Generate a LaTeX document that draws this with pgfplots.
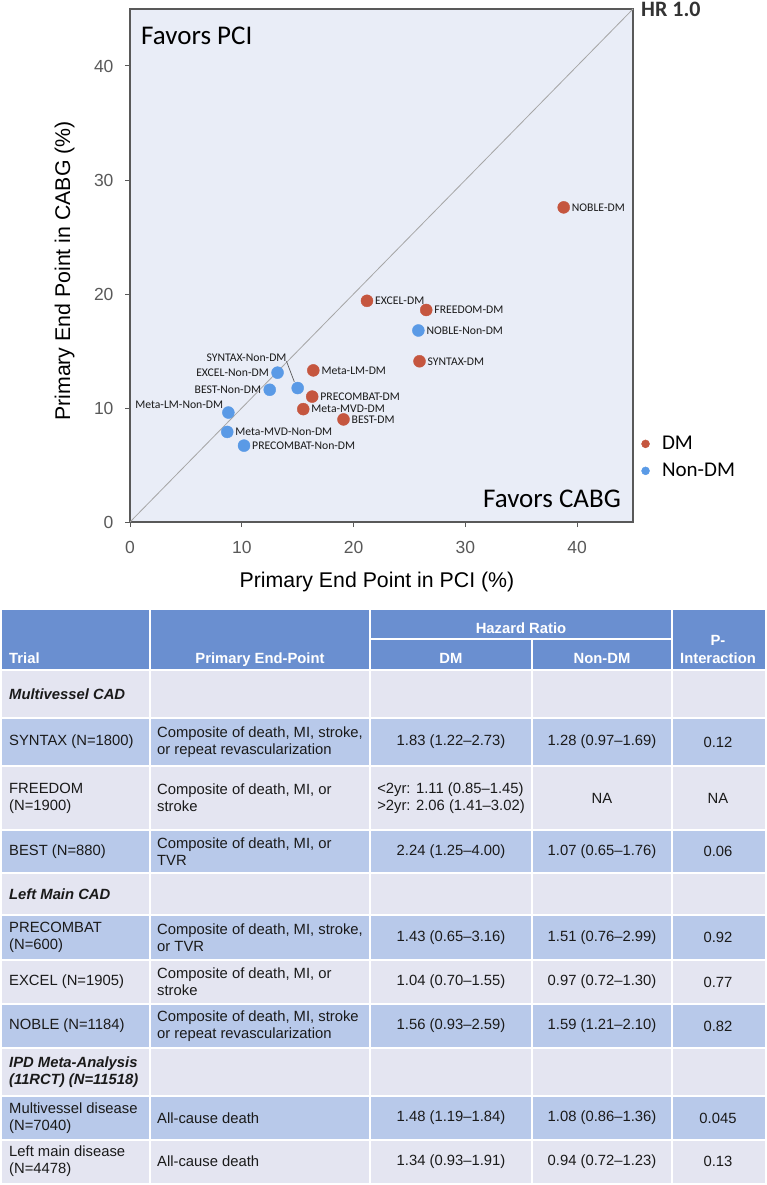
\documentclass[border=0pt]{standalone}
\usepackage{fontspec}
\setmainfont{Liberation Sans}
\newfontfamily\calfont{Carlito}
\usepackage{pgfplots}
\pgfplotsset{compat=1.18}
\usepackage{pgfplotstable}

\definecolor{dmred}{HTML}{C5563F}
\definecolor{ndblue}{HTML}{5A9AE6}
\definecolor{plotbg}{HTML}{E9EDF7}
\definecolor{axgray}{HTML}{595959}
\definecolor{hdr}{HTML}{6A8FD0}
\definecolor{rowblue}{HTML}{B8C9EA}
\definecolor{rowlight}{HTML}{E4E5F1}
\definecolor{txt}{HTML}{1A1A1A}

\pgfplotstableread{
x y label
38.8 27.6 NOBLE-DM
21.2 19.4 EXCEL-DM
26.5 18.6 FREEDOM-DM
25.9 14.1 SYNTAX-DM
16.4 13.3 Meta-LM-DM
16.3 11.0 PRECOMBAT-DM
15.5 9.9 Meta-MVD-DM
19.1 9.0 BEST-DM
}\dmtable

\pgfplotstableread{
x y label
25.8 16.8 NOBLE-Non-DM
8.7 7.9 Meta-MVD-Non-DM
10.2 6.7 PRECOMBAT-Non-DM
}\ndwest

\pgfplotstableread{
x y label
13.2 13.1 EXCEL-Non-DM
12.5 11.6 BEST-Non-DM
}\ndeast

\pgfplotstableread{
x y label
15.0 11.75 SYNTAX-Non-DM
}\ndsyntax

\pgfplotstableread{
x y label
8.8 9.6 Meta-LM-Non-DM
}\ndmetalm

\tikzset{
  tb/.style={font=\fontsize{14.8}{17}\selectfont, align=left, anchor=west, inner sep=0pt, text=txt},
  tc/.style={font=\fontsize{14.8}{17}\selectfont, align=center, anchor=center, inner sep=0pt, text=txt},
  th/.style={font=\bfseries\fontsize{14.8}{17}\selectfont, text=white, inner sep=0pt},
}
\pgfplotsset{
  lbl/.style n args={3}{
    forget plot, only marks, mark=none,
    point meta=explicit symbolic,
    nodes near coords,
    every node near coord/.append style={anchor=#1, xshift=#2, yshift=#3,
       font=\calfont\fontsize{11.7}{14}\selectfont, text=txt, inner sep=0pt},
  },
  dmmark/.style={only marks, mark=*, color=dmred, mark size=6pt, mark options={draw=none, fill=dmred}},
  ndmark/.style={only marks, mark=*, color=ndblue, mark size=6pt, mark options={draw=none, fill=ndblue}},
}

\begin{document}
\begin{tikzpicture}
\useasboundingbox (0pt,0pt) rectangle (766pt,-1185pt);

\begin{axis}[
  at={(130pt,-522pt)}, anchor=south west,
  scale only axis, width=503pt, height=513pt,
  xmin=0, xmax=45, ymin=0, ymax=45,
  xtick={0,10,20,30,40}, ytick={0,10,20,30,40},
  tick align=outside, xtick pos=bottom, ytick pos=left,
  major tick length=5pt,
  axis line style={axgray, line width=1.3pt},
  tick style={axgray, line width=1pt},
  axis background/.style={fill=plotbg},
  ticklabel style={font=\fontsize{17.5}{20}\selectfont, text=axgray},
  xticklabel style={yshift=-11pt},
  yticklabel style={xshift=-8pt},
  /pgf/number format/assume math mode=true,
  clip=false,
  legend style={draw=none, fill=none, inner sep=0pt, outer sep=0pt,
     at={(axis description cs:1.017,0.126)}, anchor=west,
     font=\calfont\fontsize{21}{24}\selectfont, row sep=8pt,
     /tikz/every odd column/.append style={column sep=10.5pt}},
  legend cell align=left,
  legend image post style={mark size=4pt},
]
\addplot[gray!70, line width=0.8pt, forget plot] coordinates {(0,0) (45,45)};
\addplot[dmmark] table[x=x, y=y] {\dmtable};
\addlegendentry{DM}
\addplot[ndmark] table[x=x, y=y] {\ndwest};
\addlegendentry{Non-DM}
\addplot[ndmark, forget plot] table[x=x, y=y] {\ndeast};
\addplot[ndmark, forget plot] table[x=x, y=y] {\ndsyntax};
\addplot[ndmark, forget plot] table[x=x, y=y] {\ndmetalm};
\addplot[lbl={west}{8pt}{0pt}] table[x=x, y=y, meta=label] {\dmtable};
\addplot[lbl={west}{8pt}{0pt}] table[x=x, y=y, meta=label] {\ndwest};
\addplot[lbl={east}{-8.5pt}{0pt}] table[x=x, y=y, meta=label] {\ndeast};
\addplot[lbl={east}{-11pt}{30pt}] table[x=x, y=y, meta=label] {\ndsyntax};
\addplot[lbl={east}{-5pt}{8pt}] table[x=x, y=y, meta=label] {\ndmetalm};
\draw[axgray, line width=0.7pt] (axis cs:14.0,14.1) -- (axis cs:14.7,12.3);
\end{axis}

% chart texts
\node[anchor=base west, font=\calfont\fontsize{27}{30}\selectfont, inner sep=0pt] at (141pt,-44.6pt) {Favors PCI};
\node[anchor=base east, font=\calfont\fontsize{27}{30}\selectfont, inner sep=0pt] at (621pt,-507pt) {Favors CABG};
\node[anchor=base west, font=\calfont\bfseries\fontsize{22}{26}\selectfont, text=black!80, inner sep=0pt] at (641pt,-17pt) {HR 1.0};
\node[anchor=base, font=\fontsize{21.3}{24}\selectfont, inner sep=0pt] at (377pt,-587pt) {Primary End Point in PCI (\%)};
\node[anchor=base, rotate=90, font=\fontsize{21.3}{24}\selectfont, inner sep=0pt] at (70pt,-271pt) {Primary End Point in CABG (\%)};

% table backgrounds
\fill[hdr] (2pt,-610pt) rectangle (765pt,-670pt);
\fill[rowlight] (2pt,-670pt) rectangle (765pt,-718pt);
\fill[rowblue] (2pt,-718pt) rectangle (765pt,-766pt);
\fill[rowlight] (2pt,-766pt) rectangle (765pt,-830pt);
\fill[rowblue] (2pt,-830pt) rectangle (765pt,-873pt);
\fill[rowlight] (2pt,-873pt) rectangle (765pt,-915pt);
\fill[rowblue] (2pt,-915pt) rectangle (765pt,-960pt);
\fill[rowlight] (2pt,-960pt) rectangle (765pt,-1004pt);
\fill[rowblue] (2pt,-1004pt) rectangle (765pt,-1048pt);
\fill[rowlight] (2pt,-1048pt) rectangle (765pt,-1096pt);
\fill[rowblue] (2pt,-1096pt) rectangle (765pt,-1140pt);
\fill[rowlight] (2pt,-1140pt) rectangle (765pt,-1183pt);
% white grid
\begin{scope}[white, line width=2pt]
\foreach \yy in {670,718,766,830,873,915,960,1004,1048,1096,1140}
  \draw (2pt,-\yy pt) -- (765pt,-\yy pt);
\draw (150pt,-610pt) -- (150pt,-1183pt);
\draw (370pt,-610pt) -- (370pt,-1183pt);
\draw (672pt,-610pt) -- (672pt,-1183pt);
\draw (532pt,-639pt) -- (532pt,-1183pt);
\draw (370pt,-639pt) -- (672pt,-639pt);
\end{scope}

% header
\node[th, anchor=base west] at (9pt,-663pt) {Trial};
\node[th, anchor=base] at (260pt,-663pt) {Primary End-Point};
\node[th, anchor=base] at (521pt,-633pt) {Hazard Ratio};
\node[th, anchor=base] at (451pt,-663pt) {DM};
\node[th, anchor=base] at (602pt,-663pt) {Non-DM};
\node[th, anchor=base] at (718pt,-645pt) {P-};
\node[th, anchor=base] at (718pt,-663pt) {Interaction};

% body
\node[tb] at (9pt,-694pt) {\bfseries\itshape Multivessel CAD};

\node[tb] at (9pt,-742pt) {SYNTAX (N=1800)};
\node[tb] at (157pt,-742pt) {Composite of death, MI, stroke,\\or repeat revascularization};
\node[tc] at (451pt,-742pt) {1.83 (1.22--2.73)};
\node[tc] at (602pt,-742pt) {1.28 (0.97--1.69)};
\node[tc] at (718pt,-742pt) {0.12};

\node[tb] at (9pt,-798pt) {FREEDOM\\(N=1900)};
\node[tb] at (157pt,-798pt) {Composite of death, MI, or\\stroke};
\node[tc, align=left] at (451pt,-798pt) {<2yr: 1.11 (0.85--1.45)\\>2yr: 2.06 (1.41--3.02)};
\node[tc] at (602pt,-798pt) {NA};
\node[tc] at (718pt,-798pt) {NA};

\node[tb] at (9pt,-851.5pt) {BEST (N=880)};
\node[tb] at (157pt,-851.5pt) {Composite of death, MI, or\\TVR};
\node[tc] at (451pt,-851.5pt) {2.24 (1.25--4.00)};
\node[tc] at (602pt,-851.5pt) {1.07 (0.65--1.76)};
\node[tc] at (718pt,-851.5pt) {0.06};

\node[tb] at (9pt,-894pt) {\bfseries\itshape Left Main CAD};

\node[tb] at (9pt,-937.5pt) {PRECOMBAT\\(N=600)};
\node[tb] at (157pt,-937.5pt) {Composite of death, MI, stroke,\\or TVR};
\node[tc] at (451pt,-937.5pt) {1.43 (0.65--3.16)};
\node[tc] at (602pt,-937.5pt) {1.51 (0.76--2.99)};
\node[tc] at (718pt,-937.5pt) {0.92};

\node[tb] at (9pt,-982pt) {EXCEL (N=1905)};
\node[tb] at (157pt,-982pt) {Composite of death, MI, or\\stroke};
\node[tc] at (451pt,-982pt) {1.04 (0.70--1.55)};
\node[tc] at (602pt,-982pt) {0.97 (0.72--1.30)};
\node[tc] at (718pt,-982pt) {0.77};

\node[tb] at (9pt,-1026pt) {NOBLE (N=1184)};
\node[tb] at (157pt,-1026pt) {Composite of death, MI, stroke\\or repeat revascularization};
\node[tc] at (451pt,-1026pt) {1.56 (0.93--2.59)};
\node[tc] at (602pt,-1026pt) {1.59 (1.21--2.10)};
\node[tc] at (718pt,-1026pt) {0.82};

\node[tb] at (9pt,-1072pt) {\bfseries\itshape IPD Meta-Analysis\\\bfseries\itshape (11RCT) (N=11518)};

\node[tb] at (9pt,-1118pt) {Multivessel disease\\(N=7040)};
\node[tb] at (157pt,-1118pt) {All-cause death};
\node[tc] at (451pt,-1118pt) {1.48 (1.19--1.84)};
\node[tc] at (602pt,-1118pt) {1.08 (0.86--1.36)};
\node[tc] at (718pt,-1118pt) {0.045};

\node[tb] at (9pt,-1161.5pt) {Left main disease\\(N=4478)};
\node[tb] at (157pt,-1161.5pt) {All-cause death};
\node[tc] at (451pt,-1161.5pt) {1.34 (0.93--1.91)};
\node[tc] at (602pt,-1161.5pt) {0.94 (0.72--1.23)};
\node[tc] at (718pt,-1161.5pt) {0.13};
\end{tikzpicture}
\end{document}
